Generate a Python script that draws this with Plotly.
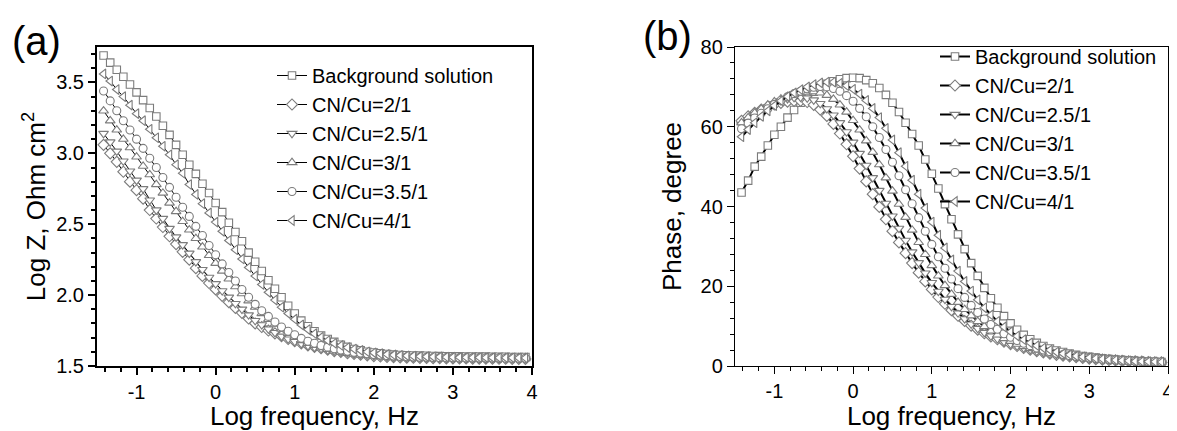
import plotly.graph_objects as go

# ---------------- data ----------------
log_freq = [
    -1.417, -1.333, -1.250, -1.167, -1.083, -1.000, -0.917, -0.833, -0.750, -0.667, -0.583, -0.500, -0.417,
    -0.333, -0.250, -0.167, -0.083, 0.000, 0.083, 0.167, 0.250, 0.333, 0.417, 0.500, 0.583, 0.667,
    0.750, 0.833, 0.917, 1.000, 1.083, 1.167, 1.250, 1.333, 1.417, 1.500, 1.583, 1.667, 1.750,
    1.833, 1.917, 2.000, 2.083, 2.167, 2.250, 2.333, 2.417, 2.500, 2.583, 2.667, 2.750, 2.833,
    2.917, 3.000, 3.083, 3.167, 3.250, 3.333, 3.417, 3.500, 3.583, 3.667, 3.750, 3.833, 3.917,
]

series_names = ["Background solution", "CN/Cu=2/1", "CN/Cu=2.5/1", "CN/Cu=3/1", "CN/Cu=3.5/1", "CN/Cu=4/1"]

# (a) Log Z
logz_background = [
    3.69, 3.64, 3.59, 3.54, 3.485, 3.43, 3.375, 3.32, 3.26, 3.195, 3.13, 3.06, 2.99,
    2.92, 2.855, 2.785, 2.72, 2.65, 2.585, 2.51, 2.445, 2.38, 2.30, 2.235, 2.17, 2.105,
    2.045, 1.985, 1.925, 1.87, 1.82, 1.78, 1.745, 1.715, 1.69, 1.67, 1.65, 1.635, 1.62,
    1.61, 1.60, 1.595, 1.59, 1.585, 1.58, 1.578, 1.576, 1.574, 1.573, 1.572, 1.571, 1.57,
    1.569, 1.568, 1.568, 1.567, 1.567, 1.566, 1.566, 1.565, 1.565, 1.565, 1.564, 1.564, 1.564,
]
logz_cn2 = [
    3.06, 3.00, 2.94, 2.87, 2.80, 2.74, 2.68, 2.60, 2.54, 2.48, 2.415, 2.36, 2.305,
    2.25, 2.19, 2.135, 2.085, 2.04, 1.995, 1.95, 1.91, 1.875, 1.835, 1.80, 1.775, 1.75,
    1.73, 1.71, 1.69, 1.675, 1.66, 1.645, 1.635, 1.625, 1.615, 1.605, 1.60, 1.59, 1.585,
    1.58, 1.575, 1.57, 1.567, 1.564, 1.562, 1.56, 1.559, 1.558, 1.557, 1.556, 1.555, 1.555,
    1.554, 1.554, 1.553, 1.553, 1.552, 1.552, 1.552, 1.551, 1.551, 1.551, 1.55, 1.55, 1.55,
]
logz_cn25 = [
    3.14, 3.08, 3.015, 2.945, 2.875, 2.81, 2.75, 2.67, 2.60, 2.54, 2.47, 2.41, 2.355,
    2.295, 2.235, 2.18, 2.125, 2.08, 2.03, 1.985, 1.94, 1.90, 1.86, 1.82, 1.79, 1.76,
    1.735, 1.71, 1.69, 1.673, 1.658, 1.643, 1.632, 1.622, 1.613, 1.605, 1.598, 1.592, 1.586,
    1.58, 1.576, 1.572, 1.569, 1.566, 1.563, 1.561, 1.559, 1.558, 1.557, 1.556, 1.555, 1.555,
    1.554, 1.554, 1.553, 1.553, 1.552, 1.552, 1.552, 1.551, 1.551, 1.551, 1.55, 1.55, 1.55,
]
logz_cn3 = [
    3.30, 3.23, 3.165, 3.10, 3.04, 2.975, 2.91, 2.85, 2.78, 2.72, 2.65, 2.59, 2.52,
    2.46, 2.40, 2.34, 2.28, 2.225, 2.17, 2.115, 2.06, 2.01, 1.96, 1.915, 1.87, 1.83,
    1.795, 1.76, 1.73, 1.705, 1.68, 1.66, 1.645, 1.63, 1.617, 1.607, 1.598, 1.59, 1.584,
    1.579, 1.575, 1.571, 1.568, 1.565, 1.563, 1.561, 1.56, 1.559, 1.558, 1.557, 1.556, 1.556,
    1.555, 1.555, 1.554, 1.554, 1.554, 1.553, 1.553, 1.553, 1.552, 1.552, 1.552, 1.552, 1.552,
]
logz_cn35 = [
    3.44, 3.37, 3.30, 3.23, 3.165, 3.10, 3.035, 2.965, 2.90, 2.83, 2.76, 2.69, 2.62,
    2.555, 2.485, 2.42, 2.35, 2.285, 2.22, 2.16, 2.10, 2.04, 1.985, 1.935, 1.89, 1.85,
    1.81, 1.775, 1.745, 1.72, 1.695, 1.675, 1.66, 1.645, 1.633, 1.622, 1.612, 1.604, 1.597,
    1.591, 1.586, 1.581, 1.577, 1.573, 1.57, 1.567, 1.565, 1.563, 1.562, 1.561, 1.56, 1.559,
    1.558, 1.558, 1.557, 1.557, 1.557, 1.556, 1.556, 1.556, 1.556, 1.555, 1.555, 1.555, 1.555,
]
logz_cn4 = [
    3.56, 3.51, 3.45, 3.40, 3.34, 3.28, 3.23, 3.17, 3.11, 3.05, 2.99, 2.92, 2.86,
    2.78, 2.71, 2.645, 2.58, 2.515, 2.45, 2.385, 2.32, 2.255, 2.195, 2.135, 2.075, 2.02,
    1.965, 1.915, 1.87, 1.83, 1.79, 1.757, 1.728, 1.703, 1.68, 1.66, 1.645, 1.63, 1.62,
    1.61, 1.60, 1.593, 1.587, 1.582, 1.578, 1.575, 1.572, 1.57, 1.568, 1.566, 1.565, 1.564,
    1.563, 1.562, 1.561, 1.561, 1.56, 1.56, 1.559, 1.559, 1.558, 1.558, 1.558, 1.557, 1.557,
]

# (b) Phase
phase_background = [
    43.5, 46.5, 50.0, 52.5, 55.3, 58.0, 60.0, 62.3, 64.2, 66.0, 67.5, 68.8, 69.9,
    70.8, 71.4, 71.9, 72.2, 72.3, 72.2, 71.7, 70.9, 69.7, 68.0, 66.0, 63.7, 61.0,
    58.2, 55.3, 51.8, 48.2, 44.5, 40.6, 36.8, 33.0, 29.3, 25.8, 22.6, 19.6, 17.0,
    14.6, 12.5, 10.7, 9.1, 7.8, 6.7, 5.8, 5.0, 4.4, 3.9, 3.5, 3.1, 2.8,
    2.5, 2.3, 2.1, 1.9, 1.75, 1.6, 1.5, 1.4, 1.3, 1.2, 1.1, 1.05, 1.0,
]
phase_cn2 = [
    61.5, 62.6, 63.5, 64.3, 65.0, 65.6, 66.0, 66.3, 66.5, 66.5, 66.2, 65.5, 64.3,
    62.7, 60.7, 58.3, 55.6, 52.6, 49.5, 46.3, 43.1, 39.9, 36.8, 33.8, 31.0, 28.3,
    25.8, 23.4, 21.2, 19.2, 17.3, 15.6, 14.0, 12.6, 11.3, 10.1, 9.1, 8.2, 7.4,
    6.7, 6.1, 5.5, 5.0, 4.5, 4.1, 3.7, 3.4, 3.1, 2.8, 2.6, 2.4, 2.2,
    2.0, 1.85, 1.7, 1.6, 1.5, 1.4, 1.3, 1.2, 1.15, 1.1, 1.0, 0.95, 0.9,
]
phase_cn25 = [
    60.5, 61.8, 63.0, 64.0, 65.0, 65.8, 66.5, 67.0, 67.3, 67.4, 67.2, 66.7, 65.8,
    64.5, 62.9, 61.0, 58.7, 56.1, 53.3, 50.3, 47.2, 44.0, 40.8, 37.6, 34.5, 31.5,
    28.6, 25.9, 23.3, 20.9, 18.7, 16.7, 14.9, 13.3, 11.8, 10.5, 9.4, 8.4, 7.5,
    6.8, 6.1, 5.5, 5.0, 4.5, 4.1, 3.7, 3.4, 3.1, 2.85, 2.6, 2.4, 2.2,
    2.0, 1.85, 1.7, 1.6, 1.5, 1.4, 1.3, 1.2, 1.15, 1.1, 1.0, 0.95, 0.9,
]
phase_cn3 = [
    61.0, 62.3, 63.5, 64.5, 65.5, 66.3, 67.0, 67.6, 68.1, 68.5, 68.7, 68.8, 68.5,
    67.9, 66.9, 65.5, 63.7, 61.6, 59.2, 56.5, 53.6, 50.5, 47.2, 43.9, 40.6, 37.3,
    34.1, 31.0, 28.0, 25.2, 22.6, 20.2, 18.0, 16.0, 14.2, 12.6, 11.2, 9.9, 8.8,
    7.8, 6.9, 6.2, 5.5, 4.9, 4.4, 4.0, 3.6, 3.3, 3.0, 2.7, 2.5, 2.3,
    2.1, 1.95, 1.8, 1.65, 1.55, 1.45, 1.35, 1.25, 1.2, 1.1, 1.05, 1.0, 0.95,
]
phase_cn35 = [
    59.5, 60.9, 62.2, 63.4, 64.5, 65.6, 66.6, 67.5, 68.3, 68.9, 69.5, 69.9, 70.1,
    70.0, 69.6, 68.9, 67.8, 66.4, 64.6, 62.5, 60.0, 57.3, 54.3, 51.1, 47.7, 44.2,
    40.7, 37.2, 33.8, 30.5, 27.4, 24.5, 21.8, 19.4, 17.2, 15.2, 13.4, 11.8, 10.4,
    9.2, 8.1, 7.2, 6.4, 5.7, 5.1, 4.5, 4.0, 3.6, 3.2, 2.9, 2.6, 2.4,
    2.2, 2.0, 1.85, 1.7, 1.6, 1.5, 1.4, 1.3, 1.2, 1.15, 1.1, 1.05, 1.0,
]
phase_cn4 = [
    57.5, 59.3, 61.0, 62.6, 64.0, 65.3, 66.5, 67.6, 68.5, 69.3, 70.0, 70.6, 71.0,
    71.2, 71.2, 70.9, 70.3, 69.4, 68.2, 66.6, 64.6, 62.3, 59.6, 56.7, 53.5, 50.1,
    46.6, 43.1, 39.6, 36.1, 32.8, 29.6, 26.6, 23.8, 21.2, 18.8, 16.6, 14.6, 12.8,
    11.2, 9.8, 8.6, 7.5, 6.6, 5.8, 5.1, 4.5, 4.0, 3.5, 3.1, 2.8, 2.5,
    2.3, 2.1, 1.9, 1.75, 1.6, 1.5, 1.4, 1.3, 1.2, 1.15, 1.1, 1.05, 1.0,
]

x_tick_vals = [-1, 0, 1, 2, 3, 4]
x_tick_text = ["-1", "0", "1", "2", "3", "4"]
ya_tick_vals = [1.5, 2.0, 2.5, 3.0, 3.5]
ya_tick_text = ["1.5", "2.0", "2.5", "3.0", "3.5"]
yb_tick_vals = [0, 20, 40, 60, 80]
yb_tick_text = ["0", "20", "40", "60", "80"]

logz_series = [logz_background, logz_cn2, logz_cn25, logz_cn3, logz_cn35, logz_cn4]
phase_series = [phase_background, phase_cn2, phase_cn25, phase_cn3, phase_cn35, phase_cn4]

# ---------------- style / layout ----------------
symbols = ["square", "diamond", "triangle-down", "triangle-up", "circle", "triangle-left"]
sizes = [7.5, 8.5, 8.5, 8.5, 8, 8.5]
MARK = "#7c7c7c"
FONT = "Liberation Sans, Arial, Helvetica, sans-serif"
OFF = 8                                   # page body margin of the html page
W, H = 1177 - OFF, 431 - OFF
PL, PR, PT, PB = 97 - OFF, 1168 - OFF, 47 - OFF, 366 - OFF   # plot area (figure pixels)
PW, PH = PR - PL, PB - PT


def px_x(p):
    """reference-image pixel x -> paper coordinate"""
    return (p - OFF - PL) / PW


def px_y(p):
    """reference-image pixel y -> paper coordinate"""
    return (PB - (p - OFF)) / PH


fig = go.Figure()
for i, name in enumerate(series_names):
    fig.add_trace(go.Scatter(
        x=log_freq, y=logz_series[i], name=name, mode="lines+markers",
        xaxis="x", yaxis="y", legend="legend",
        line=dict(color="black", width=1),
        marker=dict(symbol=symbols[i], size=sizes[i], color="white",
                    line=dict(color=MARK, width=1.1)),
    ))
for i, name in enumerate(series_names):
    fig.add_trace(go.Scatter(
        x=log_freq, y=phase_series[i], name=name, mode="lines+markers",
        xaxis="x2", yaxis="y2", legend="legend2",
        line=dict(color="black", width=2),
        marker=dict(symbol=symbols[i], size=sizes[i], color="white",
                    line=dict(color=MARK, width=1.1)),
    ))

common_axis = dict(
    showgrid=False, zeroline=False, showline=True, linecolor="black",
    mirror=True, ticks="outside", ticklen=7, tickcolor="black", automargin=False,
    tickfont=dict(family=FONT, size=20, color="black"),
    title_font=dict(family=FONT, size=26, color="black"),
)

fig.update_layout(
    width=W, height=H,
    margin=dict(l=PL, r=W - PR, t=PT, b=H - PB, autoexpand=False),
    paper_bgcolor="white", plot_bgcolor="white",
    font=dict(family=FONT, color="black"),
    xaxis=dict(common_axis, domain=[px_x(97), px_x(532)], range=[-1.5, 4],
               anchor="y", linewidth=2, tickwidth=2,
               tickvals=x_tick_vals, ticktext=x_tick_text,
               minor=dict(dtick=0.2, tick0=0, ticks="outside", ticklen=4, tickwidth=1.5, tickcolor="black"),
               title=dict(text="Log frequency, Hz", standoff=4)),
    yaxis=dict(common_axis, domain=[0, 1], range=[1.5, 3.75],
               anchor="x", linewidth=2, tickwidth=2,
               tickvals=ya_tick_vals, ticktext=ya_tick_text,
               minor=dict(dtick=0.1, tick0=0, ticks="outside", ticklen=4, tickwidth=1.5, tickcolor="black"),
               title=dict(text="Log Z, Ohm cm<sup>2</sup>", standoff=3)),
    xaxis2=dict(common_axis, domain=[px_x(735), px_x(1168)], range=[-1.5, 4],
                anchor="y2", linewidth=1.3, tickwidth=1.3,
                tickvals=x_tick_vals, ticktext=x_tick_text,
                minor=dict(dtick=0.2, tick0=0, ticks="outside", ticklen=4, tickwidth=1, tickcolor="black"),
                title=dict(text="Log frequency, Hz", standoff=4)),
    yaxis2=dict(common_axis, domain=[0, 1], range=[0, 80],
                anchor="x2", linewidth=1.3, tickwidth=1.3,
                tickvals=yb_tick_vals, ticktext=yb_tick_text,
                minor=dict(dtick=4, tick0=0, ticks="outside", ticklen=4, tickwidth=1, tickcolor="black"),
                title=dict(text="Phase, degree", standoff=11)),
    legend=dict(x=px_x(272), y=px_y(56), xanchor="left", yanchor="top",
                bgcolor="rgba(0,0,0,0)", borderwidth=0, itemwidth=30,
                font=dict(family=FONT, size=20, color="black"), tracegroupgap=0),
    legend2=dict(x=px_x(935), y=px_y(37), xanchor="left", yanchor="top",
                 bgcolor="rgba(0,0,0,0)", borderwidth=0, itemwidth=30,
                 font=dict(family=FONT, size=20, color="black"), tracegroupgap=0),
    annotations=[
        dict(text="(a)", x=px_x(36), y=px_y(41), xref="paper", yref="paper",
             xanchor="center", yanchor="middle",
             showarrow=False, font=dict(family=FONT, size=40, color="black")),
        dict(text="(b)", x=px_x(667), y=px_y(36), xref="paper", yref="paper",
             xanchor="center", yanchor="middle",
             showarrow=False, font=dict(family=FONT, size=40, color="black")),
    ],
)

fig.write_html("out.html")
